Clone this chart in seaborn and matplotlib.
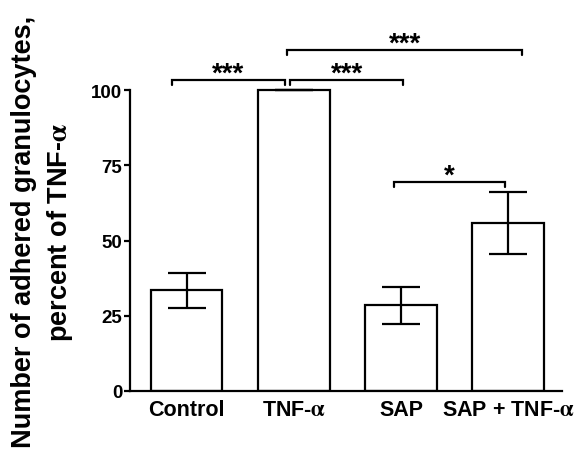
import matplotlib
matplotlib.use("Agg")
import matplotlib.pyplot as plt
import seaborn as sns
import pandas as pd
import numpy as np

categories = ["Control", r"TNF-$\mathrm{\alpha}$", "SAP", r"SAP + TNF-$\mathrm{\alpha}$"]
means = [33.4, 100.0, 28.5, 55.8]
errors = [5.8, 0.0, 6.1, 10.2]
yticks = [0, 25, 50, 75, 100]
# significance brackets: (x_start, x_end, height, label)
sig_x1 = [-0.14, 0.965, 1.93, 0.94]
sig_x2 = [0.915, 2.02, 2.97, 3.13]
sig_y = [103.3, 103.3, 69.6, 113.4]
sig_labels = ["***", "***", "*", "***"]

sns.set_theme(style="ticks")
plt.rcParams["font.family"] = ["Liberation Sans", "DejaVu Sans"]
plt.rcParams["font.weight"] = "bold"
plt.rcParams["mathtext.fontset"] = "stix"
for k in ("text.color", "axes.labelcolor", "xtick.color", "ytick.color", "axes.edgecolor"):
    plt.rcParams[k] = "black"

fig = plt.figure(figsize=(5.87, 4.6), dpi=100)
ax = fig.add_axes([130/587, 1-392/460, (562-130)/587, (392-30.8)/460])

df = pd.DataFrame({"cat": categories, "val": means})
sns.barplot(data=df, x="cat", y="val", ax=ax, color="white", edgecolor="black",
            linewidth=1.6, width=0.67, errorbar=None, saturation=1)
ax.errorbar(np.arange(len(means)), means, yerr=errors, fmt="none", ecolor="black",
            elinewidth=1.6, capsize=13.7, capthick=1.6, zorder=5)

ax.set_xlim(-0.527, 3.5)
ax.set_ylim(0, 120)
ax.spines["left"].set_bounds(0, 100)
ax.spines["top"].set_visible(False)
ax.spines["right"].set_visible(False)
for s in ("left", "bottom"):
    ax.spines[s].set_linewidth(1.6)
    ax.spines[s].set_color("black")
ax.set_yticks(yticks)
ax.set_yticklabels([str(t) for t in yticks], fontsize=13.5, fontweight="bold", color="black")
ax.tick_params(axis="y", length=4.5, width=1.6, pad=1, colors="black")
ax.tick_params(axis="x", length=0, pad=6, colors="black")
for lab in ax.get_xticklabels():
    lab.set_fontsize(15.5)
    lab.set_fontweight("bold")
    lab.set_color("black")
ax.set_xlabel("")
ax.set_ylabel("")

tick = 1.7
for x1, x2, y, lab in zip(sig_x1, sig_x2, sig_y, sig_labels):
    ax.plot([x1, x1, x2, x2], [y - tick, y, y, y - tick], color="black",
            lw=1.6, clip_on=False, solid_joinstyle="miter")
    ax.text((x1 + x2) / 2, y - 2.2, lab, ha="center", va="bottom",
            fontsize=20, fontweight="bold", color="black", clip_on=False)

fig.text(43/587, 1-232/460, "Number of adhered granulocytes,\npercent of TNF-$\\mathrm{\\alpha}$",
         rotation=90, ha="center", va="center", fontsize=19.5, fontweight="bold",
         linespacing=1.35, multialignment="center", color="black")

fig.savefig("out.png", dpi=100, facecolor="white")
